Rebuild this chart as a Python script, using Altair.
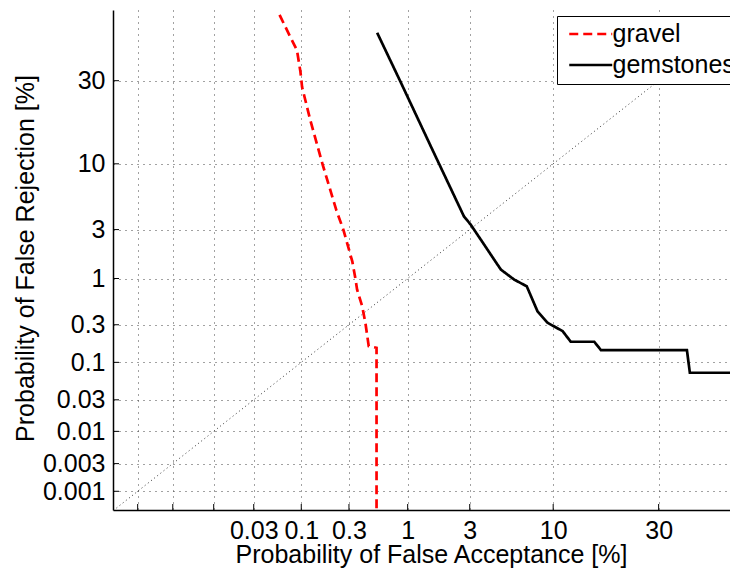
import statistics
import pandas as pd
import altair as alt

# ---- data (percent) ----
series_names = ["gravel", "gemstones"]

gravel_far = [0.0585, 0.0765, 0.090, 0.098, 0.102, 0.124, 0.165, 0.227, 0.265,
              0.323, 0.345, 0.358, 0.399, 0.427, 0.458, 0.539, 0.539]
gravel_frr = [53.0, 45.0, 40.3, 32.9, 28.0, 18.9, 10.0, 4.4, 3.0,
              1.49, 1.0, 0.76, 0.495, 0.317, 0.163, 0.155, 0.0003]

gem_far = [0.546, 0.870, 1.586, 2.73, 3.05, 4.87, 5.91, 7.06, 8.16, 9.31,
           11.24, 12.4, 16.2, 17.4, 37.4, 38.2, 55.0]
gem_frr = [46.5, 29.7, 12.4, 3.91, 3.32, 1.24, 0.975, 0.826, 0.434, 0.317,
           0.251, 0.185, 0.185, 0.1445, 0.1445, 0.0724, 0.0724]

diag_pct = [0.0005, 50.0]

x_tick_pct = [0.001, 0.003, 0.01, 0.03, 0.1, 0.3, 1, 3, 10, 30]
x_tick_labels = ["", "", "", "0.03\u00a0", "0.1\u00a0\u00a0", "0.3\u00a0\u00a0",
                 "1\u00a0\u00a0\u00a0\u00a0", "3\u00a0\u00a0\u00a0\u00a0",
                 "10\u00a0\u00a0\u00a0", "30\u00a0\u00a0\u00a0"]
y_tick_pct = [0.001, 0.003, 0.01, 0.03, 0.1, 0.3, 1, 3, 10, 30]
y_tick_labels = ["0.001", "0.003", "0.01", "0.03", "0.1", "0.3", "1", "3", "10", "30"]

# ---- normal deviate transform ----
nd = statistics.NormalDist()


def probit(pct):
    return nd.inv_cdf(pct / 100.0)


rows = []
for name, far, frr in [("gravel", gravel_far, gravel_frr), ("gemstones", gem_far, gem_frr)]:
    for i, (a, b) in enumerate(zip(far, frr)):
        rows.append({"name": name, "idx": i, "fx": probit(a), "fy": probit(b)})
curves = pd.DataFrame(rows)
diag = pd.DataFrame({"fx": [probit(p) for p in diag_pct], "fy": [probit(p) for p in diag_pct]})

xt_vals = [probit(p) for p in x_tick_pct]
yt_vals = [probit(p) for p in y_tick_pct]
xticks = pd.DataFrame({"fx": xt_vals})
yticks = pd.DataFrame({"fy": yt_vals})


def label_expr(vals, labels):
    expr = "''"
    for v, l in reversed(list(zip(vals, labels))):
        expr = f"abs(datum.value - ({v!r})) < 1e-6 ? '{l}' : ({expr})"
    return expr


FONT = "Liberation Sans"
FS = 25

xscale = alt.Scale(domain=[-4.442, -0.012], nice=False, zero=False)
yscale = alt.Scale(domain=[-4.4353, 0.1197], nice=False, zero=False)

xaxis = alt.Axis(values=xt_vals, labelExpr=label_expr(xt_vals, x_tick_labels),
                 title="Probability of False Acceptance [%]", grid=True, ticks=False,
                 labelPadding=28, labelBaseline="alphabetic", labelFlush=False,
                 labelOverlap=False, titleX=318, titleY=52, titleAlign="center",
                 titleBaseline="alphabetic")
yaxis = alt.Axis(values=yt_vals, labelExpr=label_expr(yt_vals, y_tick_labels),
                 title="Probability of False Rejection [%]", grid=True, ticks=False,
                 labelPadding=8, labelFlush=False, labelOverlap=False,
                 titleX=-80, titleY=248, titleAlign="center", titleAngle=270,
                 titleBaseline="alphabetic")

legend = alt.Legend(title=None, orient="none", legendX=444, legendY=6,
                    labelFontSize=FS, labelFont=FONT, symbolType="M-1,0H3",
                    symbolSize=462, symbolStrokeWidth=2.7, padding=5.5,
                    rowPadding=5, strokeColor="black", fillColor="white",
                    labelOffset=20, symbolOffset=5, cornerRadius=0)

diag_layer = alt.Chart(diag).mark_line(color="#333333", strokeDash=[1, 3],
                                       strokeWidth=1, clip=True).encode(
    x=alt.X("fx:Q", scale=xscale, axis=xaxis),
    y=alt.Y("fy:Q", scale=yscale, axis=yaxis),
)

curve_layer = alt.Chart(curves).mark_line(strokeWidth=2.7, clip=True).encode(
    x=alt.X("fx:Q", scale=xscale, axis=xaxis),
    y=alt.Y("fy:Q", scale=yscale, axis=yaxis),
    color=alt.Color("name:N", scale=alt.Scale(domain=series_names, range=["#ff0000", "#000000"]),
                    legend=legend),
    strokeDash=alt.StrokeDash("name:N", scale=alt.Scale(domain=series_names, range=[[9, 5], [1, 0]]),
                              legend=legend),
    order=alt.Order("idx:Q"),
)

xtick_layer = alt.Chart(xticks).mark_rule(color="black", strokeWidth=1).encode(
    x=alt.X("fx:Q", scale=xscale, axis=xaxis),
    y=alt.value(500), y2=alt.value(494),
)
ytick_layer = alt.Chart(yticks).mark_rule(color="black", strokeWidth=1).encode(
    y=alt.Y("fy:Q", scale=yscale, axis=yaxis),
    x=alt.value(0), x2=alt.value(6),
)

chart = alt.layer(diag_layer, xtick_layer, ytick_layer, curve_layer).properties(
    width=617, height=500,
    autosize=alt.AutoSizeParams(type="none"),
    padding={"left": 105, "top": 2, "right": 0, "bottom": 58},
).configure_view(stroke=None).configure_axis(
    labelFont=FONT, titleFont=FONT, labelFontSize=FS, titleFontSize=FS,
    titleFontWeight="normal", labelColor="black", titleColor="black",
    domainColor="black", domainWidth=1.5,
    gridColor="#444444", gridDash=[1, 5], gridWidth=1, gridOpacity=1,
)

chart.save("out.html", embed_options={"renderer": "svg", "actions": False})
